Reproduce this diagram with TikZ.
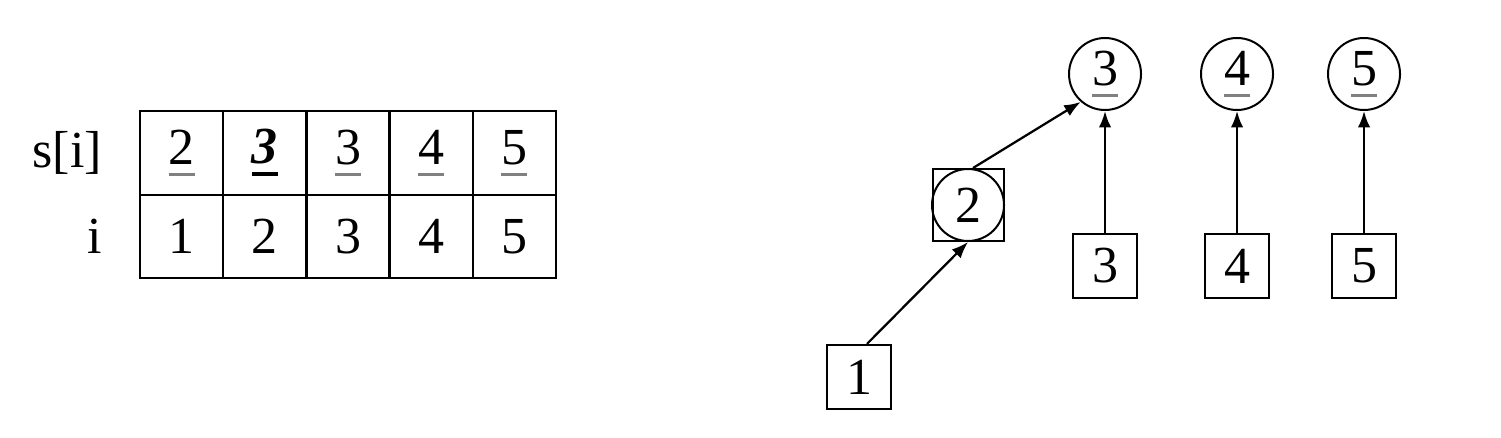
\documentclass[tikz,border=0pt]{standalone}
\usepackage{fontspec}
\setmainfont{Liberation Serif}
\usetikzlibrary{arrows.meta}
\newcommand{\gul}[1]{\setbox0\hbox{#1}\rlap{\color{gray}\rule[-2.4pt]{\wd0}{0.65pt}}\box0}
\newcommand{\bul}[1]{\setbox0\hbox{#1}\rlap{\rule[-2.5pt]{\wd0}{0.85pt}}\box0}

\begin{document}
\begin{tikzpicture}[x=0.2pt, y=-0.2pt, font=\fontsize{10.4}{12}\selectfont,
  cell/.style={draw, minimum width=16.64pt, minimum height=16.7pt, inner sep=0pt, line width=0.45pt},
  key/.style={draw, minimum size=12.8pt, inner sep=0pt, line width=0.45pt},
  root/.style={draw, circle, minimum size=14.4pt, inner sep=0pt, line width=0.4pt},
  link/.style={-{Latex[length=3.3pt, width=2.5pt]}, line width=0.45pt}]
\useasboundingbox (0,0) rectangle (1501,438);
% the array s[i]
\node[anchor=east, inner sep=0pt] (slabel) at (103,153) {s[i]};
\node[anchor=east, inner sep=0pt] (ilabel) at (103,236.5) {i};
\foreach \v [count=\k] in {\gul{2}, \bul{\textbf{\textit{3}}}, \gul{3}, \gul{4}, \gul{5}} {
  \node[cell] (s\k) at (98.4+83.2*\k, 153) {\v};
  \node[cell] (i\k) at (98.4+83.2*\k, 236.5) {\k};
}
% the forest
\node[root] (r3) at (1105,74) {\gul{3}};
\node[root] (r4) at (1237,74) {\gul{4}};
\node[root] (r5) at (1364,74) {\gul{5}};
\node[draw, minimum size=14.2pt, inner sep=0pt, line width=0.4pt] (k2) at (968,205) {};
\node[root] (r2) at (968,205) {2};
\node[key] (k1) at (859,377) {1};
\node[key] (k3) at (1105,266) {3};
\node[key] (k4) at (1237,266) {4};
\node[key] (k5) at (1364,266) {5};
\draw[link] ([xshift=1.6pt]k1.north) -- (r2.south);
\draw[link] ([xshift=1pt]r2.north) -- (r3.229);
\foreach \k in {3,4,5}
  \draw[link] (k\k) -- (r\k);
\end{tikzpicture}
\end{document}
